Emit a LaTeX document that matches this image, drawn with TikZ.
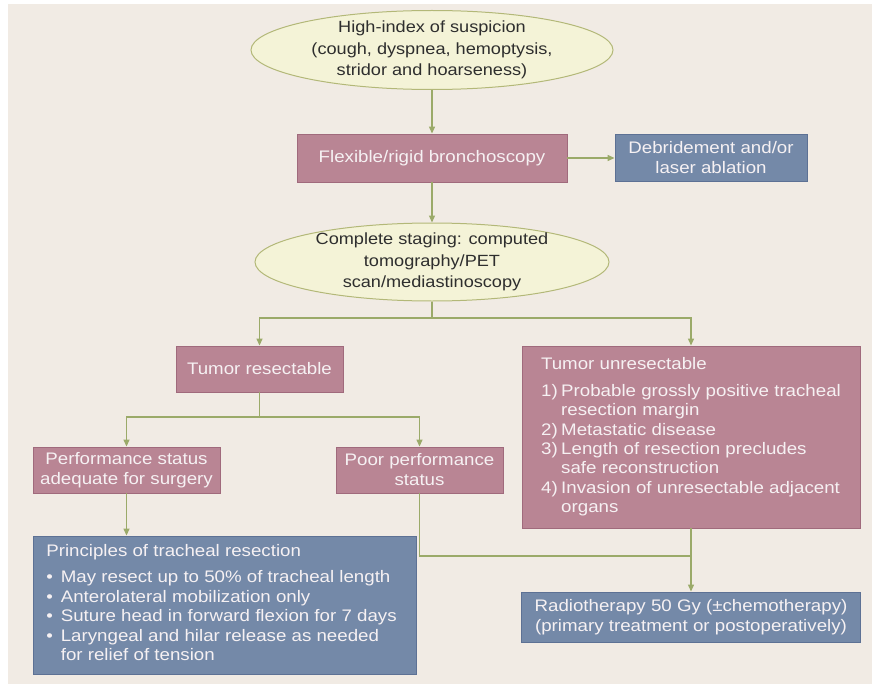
\documentclass[tikz,border=0pt]{standalone}
\usepackage{fontspec}
\setmainfont{Liberation Sans}[FakeStretch=1.12]
\usetikzlibrary{shapes.geometric,arrows.meta}
\definecolor{bgc}{HTML}{F1EBE4}
\definecolor{ellf}{HTML}{F4F3D7}
\definecolor{ellb}{HTML}{B3B878}
\definecolor{elltext}{HTML}{2E2E2E}
\definecolor{pinkf}{HTML}{B98594}
\definecolor{pinkb}{HTML}{A06A7C}
\definecolor{bluef}{HTML}{7489A8}
\definecolor{blueb}{HTML}{5D7194}
\definecolor{boxtext}{HTML}{F6F1F3}
\definecolor{linec}{HTML}{9BAA69}
\begin{document}
\begin{tikzpicture}[x=1pt,y=-1pt,
  ell/.style={ellipse, draw=ellb, fill=ellf, line width=1pt, inner xsep=0pt, inner ysep=-5pt,
    align=center, text=elltext, font=\fontsize{16.2}{21.5}\selectfont},
  pbox/.style={rectangle, draw=pinkb, fill=pinkf, line width=0.9pt, inner sep=0pt,
    align=center, text=boxtext, font=\fontsize{16.7}{20}\selectfont},
  bbox/.style={rectangle, draw=blueb, fill=bluef, line width=0.9pt, inner sep=0pt,
    align=center, text=boxtext, font=\fontsize{16.7}{20}\selectfont},
  conn/.style={draw=linec, line width=1.3pt},
  arr/.style={conn, -{Triangle[length=7pt,width=6pt]}}]
\useasboundingbox (0,0) rectangle (872,690);
\fill[white] (0,0) rectangle (872,690);
\fill[bgc] (8,4) rectangle (872,684);

\node[ell, minimum width=362pt, minimum height=79pt] (susp) at (432,50)
  {High-index of suspicion\\(cough, dyspnea, hemoptysis,\\stridor and hoarseness)};
\node[pbox, minimum width=270pt, minimum height=48pt] (bronch) at (432,158)
  {Flexible/rigid bronchoscopy};
\node[bbox, minimum width=192pt, minimum height=47pt] (debr) at (711,158)
  {Debridement and/or\\laser ablation};
\node[ell, minimum width=354pt, minimum height=78pt] (staging) at (432,262)
  {Complete staging: computed\\tomography/PET\\scan/mediastinoscopy};
\node[pbox, minimum width=167pt, minimum height=46pt] (resect) at (259.5,369)
  {Tumor resectable};
\node[pbox, minimum width=338pt, minimum height=182pt, font=\fontsize{16.7}{19.3}\selectfont] (unres) at (691,437)
  {\begin{tabular}{@{}l@{\hspace{3.5pt}}l@{}}
   \multicolumn{2}{@{}l@{}}{Tumor unresectable}\\[8pt]
   1) & Probable grossly positive tracheal\\
      & resection margin\\
   2) & Metastatic disease\\
   3) & Length of resection precludes\\
      & safe reconstruction\\
   4) & Invasion of unresectable adjacent\\
      & organs
   \end{tabular}};
\node[pbox, minimum width=187pt, minimum height=46pt] (perf) at (126.5,470)
  {Performance status\\adequate for surgery};
\node[pbox, minimum width=167pt, minimum height=46pt] (poor) at (419.5,470)
  {Poor performance\\status};
\node[bbox, minimum width=383pt, minimum height=138pt, font=\fontsize{16.7}{19.5}\selectfont] (princ) at (224.5,605)
  {\begin{tabular}{@{}l@{\hspace{8pt}}l@{}}
   \multicolumn{2}{@{}l@{}}{Principles of tracheal resection}\\[6.5pt]
   • & May resect up to 50\% of tracheal length\\
   • & Anterolateral mobilization only\\
   • & Suture head in forward flexion for 7 days\\
   • & Laryngeal and hilar release as needed\\
     & for relief of tension
   \end{tabular}\kern6pt};
\node[bbox, minimum width=339pt, minimum height=50pt, font=\fontsize{16.7}{19.5}\selectfont] (radio) at (691,617)
  {Radiotherapy 50 Gy (±chemotherapy)\\(primary treatment or postoperatively)};

\coordinate (j1) at (432,318);
\coordinate (j2) at (259.5,417);
\coordinate (j3) at (691,556);

\draw[arr] (susp.south) -- (bronch.north);
\draw[arr] (bronch.east) -- (debr.west);
\draw[arr] (bronch.south) -- (staging.north);
\draw[conn] (staging.south) -- (j1);
\draw[arr] (j1) -| (resect.north);
\draw[arr] (j1) -| (unres.north);
\draw[conn] (resect.south) -- (j2);
\draw[arr] (j2) -| (perf.north);
\draw[arr] (j2) -| (poor.north);
\draw[arr] (perf.south) -- (perf.south |- princ.north);
\draw[conn] (poor.south) |- (j3);
\draw[conn] (unres.south) -- (j3);
\draw[arr] (j3) -- (radio.north);
\end{tikzpicture}
\end{document}
